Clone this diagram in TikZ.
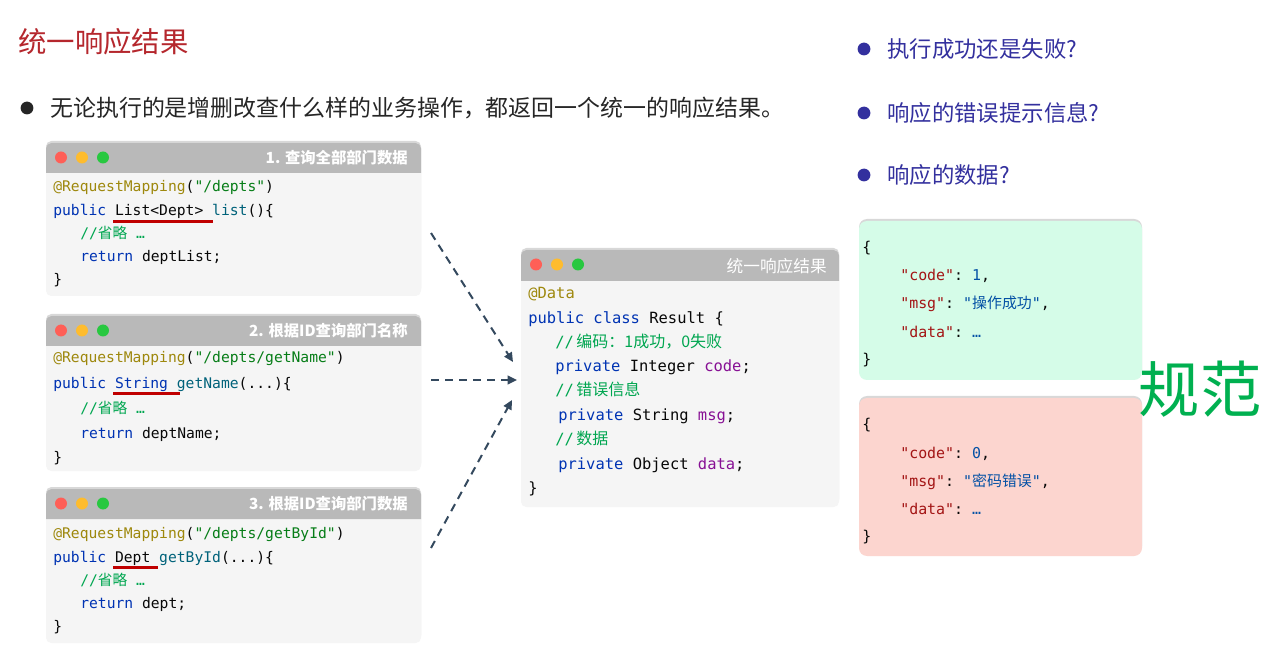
\documentclass[tikz,border=0pt]{standalone}
\usepackage{fontspec}
\setmainfont{Noto Sans CJK SC}
\setmonofont{DejaVu Sans Mono}
\newfontfamily\cjk{Noto Sans CJK SC}
\usetikzlibrary{shadows,fit,arrows.meta}
\definecolor{anno}{HTML}{9E880D}
\definecolor{str}{HTML}{067D17}
\definecolor{kw}{HTML}{0033B3}
\definecolor{fn}{HTML}{00627A}
\definecolor{cm}{HTML}{00A650}
\definecolor{fld}{HTML}{871094}
\definecolor{plain}{HTML}{080808}
\definecolor{headgray}{HTML}{B9B9B9}
\definecolor{bodygray}{HTML}{F5F5F5}
\definecolor{dotr}{HTML}{FF5F57}
\definecolor{doty}{HTML}{FEBC2E}
\definecolor{dotg}{HTML}{28C840}
\definecolor{ulred}{HTML}{C00000}
\definecolor{arrcol}{HTML}{34495E}
\definecolor{titred}{HTML}{B5272D}
\definecolor{darktxt}{HTML}{262626}
\definecolor{bulblue}{HTML}{33309E}
\definecolor{okfill}{HTML}{D5FCE8}
\definecolor{errfill}{HTML}{FCD5CF}
\definecolor{jkey}{HTML}{A31515}
\definecolor{jval}{HTML}{0451A5}
\definecolor{gr}{HTML}{00B050}
\newcommand\mywin[6]{%
  \node[winbody, fit={(#2,#3) (#4,#5)}] (#1) {};
  \fill[headgray] (#2,#6) [rounded corners=4pt] -- (#2,#3) -- (#4,#3) [sharp corners] -- (#4,#6) -- cycle;
  \fill[dotr] (#2+15,#3+14.5) circle[radius=4.5pt];
  \fill[doty] (#2+36,#3+14.5) circle[radius=4.5pt];
  \fill[dotg] (#2+57,#3+14.5) circle[radius=4.5pt];
}
\begin{document}
\begin{tikzpicture}[x=0.75pt,y=-0.75pt,
  winbody/.style={fill=bodygray, inner sep=0, rounded corners=4pt,
    drop shadow={opacity=0.3, shadow xshift=0pt, shadow yshift=1.5pt}},
  jsonbox/.style={inner sep=0, rounded corners=6pt,
    drop shadow={opacity=0.3, shadow xshift=0pt, shadow yshift=1.5pt}},
  code/.style={anchor=west, inner sep=0, text=plain, text height=11pt, text depth=2pt,
    font=\ttfamily\fontsize{11}{13}\selectfont},
  rcode/.style={code, font=\ttfamily\fontsize{11.6}{14}\selectfont},
  jcode/.style={code, font=\ttfamily\fontsize{11.2}{13}\selectfont},
  wtitle/.style={anchor=east, inner sep=0, text=white, font=\bfseries\fontsize{11.5}{14}\selectfont},
  arr/.style={draw=arrcol, line width=1.5pt, dash pattern=on 6pt off 4.5pt,
    -{Triangle[length=7pt,width=6.5pt]}},
  uline/.style={draw=ulred, line width=2.25pt},
  bul/.style={anchor=west, inner sep=0, font=\fontsize{16.8}{20}\selectfont}]
\useasboundingbox[fill=white] (0,0) rectangle (1268,652);

% title and bullet
\node[anchor=west, inner sep=0, text=titred, font=\fontsize{21.3}{24}\selectfont] (title) at (18,42) {统一响应结果};
\fill[darktxt] (27,108) circle[radius=4.8pt];
\node[bul, text=darktxt, font=\fontsize{17.2}{20}\selectfont] (b0) at (50,108) {无论执行的是增删改查什么样的业务操作，都返回一个统一的响应结果。};

% window 1
\mywin{w1}{46}{143}{421}{296}{173}
\node[wtitle] (w1t) at (408,158) {1. 查询全部部门数据};
\node[code] (c1a) at (53,186) {\color{anno}@RequestMapping\color{plain}(\color{str}"/depts"\color{plain})};
\node[code] (c1b) at (53,210) {\color{kw}public \color{plain}List<Dept> \color{fn}list\color{plain}()\{};
\node[code] (c1c) at (80,233) {\color{cm}//{\cjk 省略} …};
\node[code] (c1d) at (80,256) {\color{kw}return \color{plain}deptList;};
\node[code] (c1e) at (53,279) {\}};
\draw[uline] (113,222) -- (213,222);

% window 2
\mywin{w2}{46}{316}{421}{471}{346}
\node[wtitle] (w2t) at (408,331) {2. 根据ID查询部门名称};
\node[code] (c2a) at (53,357) {\color{anno}@RequestMapping\color{plain}(\color{str}"/depts/getName"\color{plain})};
\node[code] (c2b) at (53,382) {\color{kw}public String \color{fn}getName\color{plain}(...)\{};
\node[code] (c2c) at (80,407) {\color{cm}//{\cjk 省略} …};
\node[code] (c2d) at (80,432) {\color{kw}return \color{plain}deptName;};
\node[code] (c2e) at (53,456) {\}};
\draw[uline] (113,394) -- (180,394);

% window 3
\mywin{w3}{46}{489}{421}{643}{519}
\node[wtitle] (w3t) at (408,504) {3. 根据ID查询部门数据};
\node[code] (c3a) at (53,532) {\color{anno}@RequestMapping\color{plain}(\color{str}"/depts/getById"\color{plain})};
\node[code] (c3b) at (53,556) {\color{kw}public \color{plain}Dept \color{fn}getById\color{plain}(...)\{};
\node[code] (c3c) at (80,579) {\color{cm}//{\cjk 省略} …};
\node[code] (c3d) at (80,602) {\color{kw}return \color{plain}dept;};
\node[code] (c3e) at (53,625) {\}};
\draw[uline] (113,567) -- (158,567);

% result window
\mywin{rw}{521}{250}{839}{507}{281}
\node[wtitle, font=\fontsize{12.5}{14}\selectfont] (rwt) at (827,266) {统一响应结果};
\node[rcode] (r1) at (528,293) {\color{anno}@Data};
\node[rcode] (r2) at (528,318) {\color{kw}public class \color{plain}Result \{};
\node[rcode, text=cm] (r3) at (555,342) {//\,{\cjk\fontsize{12}{14}\selectfont 编码：1成功，0失败}};
\node[rcode] (r4) at (555,366) {\color{kw}private \color{plain}Integer \color{fld}code\color{plain};};
\node[rcode, text=cm] (r5) at (555,390) {//\,{\cjk\fontsize{12}{14}\selectfont 错误信息}};
\node[rcode] (r6) at (558,415) {\color{kw}private \color{plain}String \color{fld}msg\color{plain};};
\node[rcode, text=cm] (r7) at (555,439) {//\,{\cjk\fontsize{12}{14}\selectfont 数据}};
\node[rcode] (r8) at (558,463) {\color{kw}private \color{plain}Object \color{fld}data\color{plain};};
\node[rcode] (r9) at (528,487) {\}};

% arrows
\coordinate (s1) at (431,233); \coordinate (t1) at (513,362);
\coordinate (s2) at (431,380); \coordinate (t2) at (517,380);
\coordinate (s3) at (431,548); \coordinate (t3) at (512,400);
\draw[arr] (s1) -- (t1);
\draw[arr] (s2) -- (t2);
\draw[arr] (s3) -- (t3);

% right bullets
\fill[bulblue] (864,49) circle[radius=4.8pt];
\node[bul, text=bulblue] (q1) at (887,49) {执行成功还是失败?};
\fill[bulblue] (864,113) circle[radius=4.8pt];
\node[bul, text=bulblue] (q2) at (887,113) {响应的错误提示信息?};
\fill[bulblue] (864,175) circle[radius=4.8pt];
\node[bul, text=bulblue] (q3) at (887,175) {响应的数据?};

% json boxes
\node[jsonbox, fill=okfill, fit={(859,221) (1142,380)}] (ok) {};
\node[jcode] (j1) at (862,247) {\{};
\node[jcode] (j2) at (900,275) {\color{jkey}"code"\color{plain}: \color{jval}1\color{plain},};
\node[jcode] (j3) at (900,303) {\color{jkey}"msg"\color{plain}: \color{jval}"{\cjk 操作成功}"\color{plain},};
\node[jcode] (j4) at (900,332) {\color{jkey}"data"\color{plain}: \color{jval}…};
\node[jcode] (j5) at (862,359) {\}};

\node[jsonbox, fill=errfill, fit={(859,398) (1142,556)}] (err) {};
\node[jcode] (k1) at (862,423) {\{};
\node[jcode] (k2) at (900,452) {\color{jkey}"code"\color{plain}: \color{jval}0\color{plain},};
\node[jcode] (k3) at (900,480) {\color{jkey}"msg"\color{plain}: \color{jval}"{\cjk 密码错误}"\color{plain},};
\node[jcode] (k4) at (900,508) {\color{jkey}"data"\color{plain}: \color{jval}…};
\node[jcode] (k5) at (862,535) {\}};

\node[inner sep=0, text=gr, font=\fontsize{46}{50}\selectfont] (gf) at (1200,389) {规范};
\end{tikzpicture}
\end{document}
